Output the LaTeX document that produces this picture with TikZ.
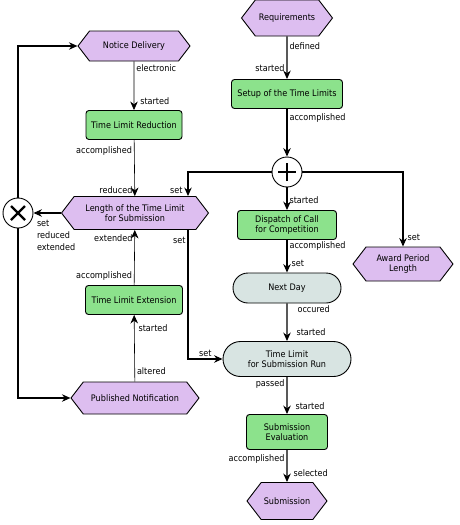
\documentclass[tikz,border=0pt]{standalone}
\usepackage{fontspec}
\setmainfont{DejaVu Sans}[FakeStretch=0.9]
\usepackage{xcolor}
\usetikzlibrary{shapes,arrows.meta,positioning,calc}
\definecolor{evtfill}{RGB}{221,190,240}
\definecolor{fnfill}{RGB}{140,226,140}
\definecolor{stfill}{RGB}{216,228,226}

\begin{document}
\begin{tikzpicture}[x=1pt,y=-1pt,
    font=\fontsize{9}{10}\selectfont,
    event/.style={signal, signal to=west and east, signal pointer angle=105, draw, line width=0.9pt, fill=evtfill, align=center, inner sep=1pt},
    func/.style={rectangle, rounded corners=3pt, draw, line width=0.9pt, fill=fnfill, align=center, minimum height=29pt, inner sep=1pt},
    statebox/.style={rounded rectangle, draw, line width=0.9pt, fill=stfill, align=center, inner sep=1pt},
    gate/.style={circle, draw, line width=0.9pt, fill=white, minimum size=30pt, inner sep=0pt},
    flow/.style={-{Stealth[length=8.5pt,width=7.5pt]}, line width=1.1pt},
    thinflow/.style={flow, line width=0.6pt},
    lbl/.style={inner sep=2pt}]
    \useasboundingbox (0,0) rectangle (459,525);

    % right column: setup, dispatch, run, evaluation
    \node[event, minimum width=91pt, minimum height=36pt] (req) at (287,18) {Requirements};
    \node[func, minimum width=111pt] (setup) at (287,94) {Setup of the Time Limits};
    \node[gate] (plus) at (287,172) {};
    \draw[line width=2.2pt] ([xshift=-9pt]plus.center) -- ([xshift=9pt]plus.center)
        ([yshift=-9pt]plus.center) -- ([yshift=9pt]plus.center);
    \node[func, minimum width=99pt] (dispatch) at (287,225) {Dispatch of Call\\for Competition};
    \node[event, minimum width=100pt, minimum height=34pt] (award) at (403,264) {Award Period\\Length};
    \node[statebox, minimum width=110pt, minimum height=30pt] (nextday) at (287,288) {Next Day};
    \node[statebox, minimum width=130pt, minimum height=35pt] (run) at (287,359) {Time Limit\\for Submission Run};
    \node[func, minimum width=81pt, minimum height=35pt] (eval) at (287,432) {Submission\\Evaluation};
    \node[event, minimum width=80pt, minimum height=37pt] (subm) at (287,501) {Submission};

    % left column: notice, reduction, length, extension, published
    \node[event, minimum width=112pt, minimum height=30pt] (notice) at (134,46) {Notice Delivery};
    \node[func, minimum width=96pt] (reduce) at (134,125) {Time Limit Reduction};
    \node[event, minimum width=147pt, minimum height=33pt] (length) at (135,213) {Length of the Time Limit\\for Submission};
    \node[func, minimum width=97pt] (extend) at (134,300) {Time Limit Extension};
    \node[event, minimum width=128pt, minimum height=32pt] (publ) at (135,398) {Published Notification};
    \node[gate] (xor) at (18,213) {};
    \draw[line width=2.2pt] ([shift={(-7pt,-7pt)}]xor.center) -- ([shift={(7pt,7pt)}]xor.center)
        ([shift={(-7pt,7pt)}]xor.center) -- ([shift={(7pt,-7pt)}]xor.center);

    % main flow
    \draw[flow] (req) -- node[lbl, right, pos=0.23] {defined} node[lbl, left, pos=0.74] {started} (setup);
    \draw[flow] (setup) -- node[lbl, right, pos=0.2] {accomplished} (plus);
    \draw[flow] (plus.west) -| node[lbl, left, pos=0.88, xshift=-3pt] {set} ([xshift=53pt]length.north);
    \draw[flow] (plus.east) -| node[lbl, right, pos=0.94, xshift=2pt] {set} (award.north);
    \draw[flow] (plus) -- node[lbl, right, pos=0.54] {started} (dispatch);
    \draw[flow] (dispatch) -- node[lbl, right, pos=0.2] {accomplished} node[lbl, right, pos=0.73, xshift=2pt] {set} (nextday);
    \draw[flow] (nextday) -- node[lbl, right, pos=0.15, xshift=8pt] {occured} node[lbl, right, pos=0.76, xshift=7pt] {started} (run);
    \draw[flow] (run) -- node[lbl, left, pos=0.2] {passed} node[lbl, right, pos=0.79, xshift=6pt] {started} (eval);
    \draw[flow] (eval) -- node[lbl, left, pos=0.27] {accomplished} node[lbl, right, pos=0.73, xshift=4pt] {selected} (subm);

    % reduction / extension loop
    \draw[thinflow] (notice) -- node[lbl, right, pos=0.14] {electronic} node[lbl, right, pos=0.82, xshift=4pt] {started} (reduce);
    \draw[thinflow] (reduce) -- node[lbl, left, pos=0.19] {accomplished} node[lbl, left, pos=0.9] {reduced} (length);
    \draw[thinflow] (publ) -- node[lbl, right, pos=0.16] {altered} node[lbl, right, pos=0.8, xshift=2pt] {started} (extend);
    \draw[thinflow] (extend) -- node[lbl, left, pos=0.16] {accomplished} node[lbl, left, pos=0.86] {extended} (length);
    \draw[flow] ([xshift=53pt]length.south) |- node[lbl, left, pos=0.04] {set} node[lbl, above, pos=0.75] {set} (run.west);
    \draw[flow] (length.west) -- node[lbl, pos=1, anchor=north west, align=left, inner sep=1pt, yshift=-6pt, xshift=2pt, font=\fontsize{9}{12}\selectfont] {set\\reduced\\extended} (xor.east);
    \draw[flow] (xor.north) |- (notice.west);
    \draw[flow] (xor.south) |- (publ.west);

\end{tikzpicture}
\end{document}
